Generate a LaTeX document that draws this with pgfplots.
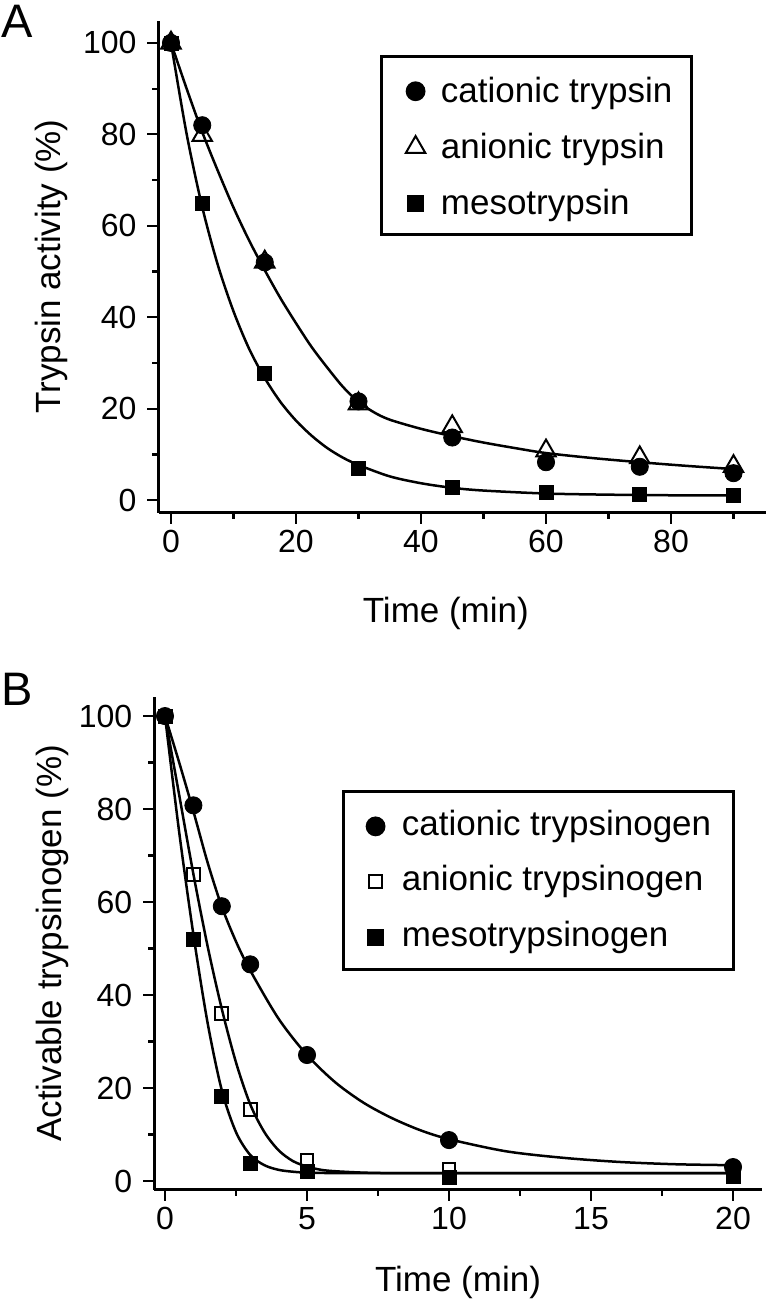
\documentclass[border=0pt]{standalone}
\usepackage{fontspec}
\setmainfont{Liberation Sans}
\usepackage{pgfplots}
\pgfplotsset{compat=1.18}

\pgfplotsset{
  panel/.style={
    scale only axis,
    anchor=south west,
    axis x line*=bottom, axis y line*=left,
    axis line style={-, line width=1.3pt},
    tick align=outside,
    major tick length=5.5pt, minor tick length=3pt,
    tick style={black, line width=1.1pt},
    /pgf/number format/assume math mode=true,
    ticklabel style={font=\fontsize{16}{19}\selectfont},
    yticklabel style={xshift=-2pt},
    label style={font=\fontsize{17.5}{21}\selectfont},
    ytick={0,20,...,100}, minor ytick={10,30,...,90},
    legend cell align=left,
  },
  fit/.style={black, line width=1.25pt, smooth, no marks, forget plot},
  cat/.style={only marks, mark=*, mark size=4.3pt, black},
  ani/.style={only marks, mark=triangle, mark size=5.6pt, black,
    mark options={fill=white, line width=1pt}},
  anisq/.style={only marks, mark=square, mark size=3.2pt, black,
    mark options={fill=white, line width=1pt}},
  meso/.style={only marks, mark=square*, mark size=3.5pt, black},
}

\begin{document}
\begin{tikzpicture}
\path[use as bounding box] (0pt,0pt) rectangle (383pt,-650.5pt);
\node[anchor=base west, inner sep=0pt, font=\fontsize{23.5}{28}\selectfont] at (0.5pt,-18.5pt) {A};
\node[anchor=base west, inner sep=0pt, font=\fontsize{23.5}{28}\selectfont] at (0.5pt,-352.5pt) {B};

% panel A: trypsin
\begin{axis}[panel,
  at={(79.25pt,-256.25pt)},
  width=303.75pt, height=246pt,
  xmin=-2.0, xmax=95.2, ymin=-2.7, ymax=104.9,
  xtick={0,20,...,80}, minor xtick={10,30,...,90},
  xlabel={Time (min)}, ylabel={Trypsin activity (\%)},
  xlabel style={at={(axis description cs:0.473,-0.2226)}, anchor=base},
  ylabel style={at={(axis description cs:-0.1605,0.5)}, anchor=base},
  legend image code/.code={\path (-7pt,0pt) (7pt,0pt); \draw[#1] plot coordinates {(0pt,-1pt)};},
  legend style={at={(axis description cs:0.3646,0.930)}, anchor=north west,
    draw=black, line width=1.3pt, inner xsep=9.5pt, inner ysep=4pt,
    row sep=3pt, column sep=5pt,
    font=\fontsize{17.5}{20}\selectfont,
    nodes={inner sep=0pt, text height=19.35pt, text depth=5.65pt}},
]
\addplot[fit] coordinates {
  (0,100) (2.5,90) (5,80.5) (7.5,72) (10,64) (12.5,56.8) (15,50.3)
  (17.5,44.2) (20,38.7) (22.5,33.5) (25,29) (27.5,24.8) (30,21.5)
  (32.5,19.2) (35,17.6) (40,15.6) (45,14) (50,12.6) (55,11.4) (60,10.3)
  (67.5,9.2) (75,8.3) (82.5,7.5) (90,6.8)};
\addplot[fit] coordinates {
  (0,100) (2.5,80.1) (5,64.1) (7.5,51.4) (10,41.3) (12.5,33.1) (15,26.7)
  (17.5,21.5) (20,17.4) (22.5,14.1) (25,11.4) (27.5,9.3) (30,7.7)
  (35,5.2) (40,3.7) (45,2.7) (50,2.1) (60,1.45) (70,1.2) (80,1.07) (90,1.03)};
\addplot[cat] coordinates {
  (0,100) (5,82) (15,52) (30,21.6) (45,13.7) (60,8.3) (75,7.3) (90,5.9)};
\addlegendentry{cationic trypsin}
\addplot[ani] coordinates {
  (0,100) (5,79.8) (15,52.1) (30,21.1) (45,16.1) (60,10.8) (75,9.3) (90,7.4)};
\addlegendentry{anionic trypsin}
\addplot[meso] coordinates {
  (0,100) (5,65) (15,27.7) (30,7.0) (45,2.7) (60,1.6) (75,1.2) (90,1.0)};
\addlegendentry{mesotrypsin}
\end{axis}

% panel B: trypsinogen
\begin{axis}[panel,
  at={(77.15pt,-594.75pt)},
  width=303.7pt, height=246.25pt,
  xmin=-0.377, xmax=21.01, ymin=-1.83, ymax=104.1,
  xtick={0,5,...,20}, minor xtick={2.5,7.5,12.5,17.5},
  xlabel={Time (min)}, ylabel={Activable trypsinogen (\%)},
  xlabel style={at={(axis description cs:0.5,-0.2075)}, anchor=base},
  ylabel style={at={(axis description cs:-0.152,0.5)}, anchor=base},
  legend image code/.code={\path (-4.5pt,0pt) (4.5pt,0pt); \draw[#1] plot coordinates {(0pt,-0.75pt)};},
  legend style={at={(axis description cs:0.309,0.811)}, anchor=north west,
    draw=black, line width=1.3pt, inner xsep=11pt, inner ysep=4pt,
    row sep=2.25pt, column sep=8pt,
    font=\fontsize{17.5}{20}\selectfont,
    nodes={inner sep=0pt, text height=18pt, text depth=7.5pt}},
]
\addplot[fit] coordinates {
  (0,100) (0.5,90) (1,79.5) (1.5,68.5) (2,59) (2.5,51.5) (3,45.3) (4,34.9)
  (5,27.1) (6,21.2) (7,16.8) (8,13.5) (9,10.9) (10,9.0) (12,6.4) (14,5.0)
  (16,4.1) (18,3.6) (20,3.4)};
\addplot[fit] coordinates {
  (0,100) (0.5,83) (1,66) (1.5,50.5) (2,37) (2.5,25.5) (3,16.5) (3.5,10.5)
  (4,6.6) (4.5,4.3) (5,3.1) (5.5,2.4) (6,2.1) (7,1.8) (8,1.7) (10,1.7) (20,1.7)};
\addplot[fit] coordinates {
  (0,100) (0.5,75) (1,53) (1.5,34) (2,19.5) (2.5,10.5) (3,5.6) (3.5,3.4)
  (4,2.4) (4.5,2.0) (5,1.8) (6,1.7) (8,1.7) (20,1.7)};
\addplot[cat] coordinates {
  (0,100) (1,80.8) (2,59.1) (3,46.6) (5,27.1) (10,8.8) (20,3.0)};
\addlegendentry{cationic trypsinogen}
\addplot[anisq] coordinates {
  (0,100) (1,66.0) (2,36.1) (3,15.4) (5,4.5) (10,2.4) (20,2.0)};
\addlegendentry{anionic trypsinogen}
\addplot[meso] coordinates {
  (0,100) (1,52.0) (2,18.2) (3,3.8) (5,2.0) (10,0.8) (20,1.0)};
\addlegendentry{mesotrypsinogen}
\end{axis}
\end{tikzpicture}
\end{document}
